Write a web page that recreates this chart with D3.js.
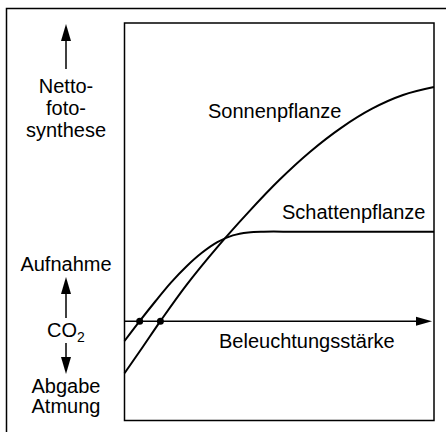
<!DOCTYPE html>
<html>
<head>
<meta charset="utf-8">
<script src="https://cdn.jsdelivr.net/npm/d3@7"></script>
<style>
body { margin: 0; background: #fff; }
text { font-family: "Liberation Sans", Arial, sans-serif; font-size: 20px; fill: #000; }
</style>
</head>
<body>
<div id="chart"></div>
<script>
// Beleuchtungsstärke (0-100) vs. Nettofotosynthese (relative units)
var sunX = [0, 6, 11.6, 20, 30, 40, 50, 60, 70, 80, 90, 100];
var sunY = [-2.1, -1.02, 0, 1.45, 2.98, 4.38, 5.68, 6.82, 7.78, 8.55, 9.1, 9.42];
var shadeX = [0, 4.9, 10, 15, 20, 25, 30, 35, 40, 45, 55, 70, 85, 100];
var shadeY = [-0.8, 0, 0.8, 1.55, 2.2, 2.75, 3.18, 3.45, 3.57, 3.6, 3.6, 3.6, 3.6, 3.6];
var compX = [4.9, 11.6];
var compY = [0, 0];
var curveNames = ["Sonnenpflanze", "Schattenpflanze"];

var width = 446, height = 432;
var box = {left: 124.5, top: 23, right: 434, bottom: 420.5};

var svg = d3.select("#chart")
.append("svg")
.attr("width", width)
.attr("height", height);

var xScale = d3.scaleLinear()
.domain([0, 100])
.range([box.left, box.right]);

var yScale = d3.scaleLinear()
.domain([-4, 12])
.range([box.bottom, box.top]);

// outer frame (runs off the picture to the right and bottom)
svg.append("rect")
.attr("x", 6.5).attr("y", 8.5)
.attr("width", 600).attr("height", 600)
.attr("fill", "none").attr("stroke", "#000").attr("stroke-width", 1.5);

svg.append("rect")
.attr("x", box.left).attr("y", box.top)
.attr("width", box.right - box.left).attr("height", box.bottom - box.top)
.attr("fill", "none").attr("stroke", "#000").attr("stroke-width", 1.5);

// x axis with arrow
svg.append("line")
.attr("x1", xScale(0)).attr("x2", xScale(100) - 14)
.attr("y1", yScale(0)).attr("y2", yScale(0))
.attr("stroke", "#000").attr("stroke-width", 1.5);
svg.append("path")
.attr("d", "M" + (xScale(100) - 2) + "," + yScale(0) + "l-16,-4.5l0,9z")
.attr("fill", "#000");

var line = d3.line()
.x(function (d) { return xScale(d[0]); })
.y(function (d) { return yScale(d[1]); })
.curve(d3.curveCatmullRom.alpha(0.5));

svg.append("path")
.attr("d", line(d3.zip(sunX, sunY)))
.attr("fill", "none").attr("stroke", "#000").attr("stroke-width", 2);

svg.append("path")
.attr("d", line(d3.zip(shadeX, shadeY)))
.attr("fill", "none").attr("stroke", "#000").attr("stroke-width", 2);

svg.append("g")
.selectAll("circle")
.data(d3.zip(compX, compY))
.enter()
.append("circle")
.attr("cx", function (d) { return xScale(d[0]); })
.attr("cy", function (d) { return yScale(d[1]); })
.attr("r", 3.5)
.attr("fill", "#000");

svg.append("text").attr("x", 208).attr("y", 118).text(curveNames[0]);
svg.append("text").attr("x", 282).attr("y", 219).text(curveNames[1]);
svg.append("text").attr("x", 219).attr("y", 348).text("Beleuchtungsstärke");

// left side labels
var cx = 66;
function arrow(y1, y2) {
	var dir = y2 > y1 ? 1 : -1;
	svg.append("line")
	.attr("x1", cx).attr("x2", cx)
	.attr("y1", y1).attr("y2", y2 - dir * 14)
	.attr("stroke", "#000").attr("stroke-width", 1.5);
	svg.append("path")
	.attr("d", "M" + cx + "," + y2 + "l-5," + (-dir * 17) + "l10,0z")
	.attr("fill", "#000");
}
function label(y, t) {
	svg.append("text").attr("x", cx).attr("y", y)
	.attr("text-anchor", "middle").text(t);
}

arrow(69, 24);
label(93, "Netto-");
label(115, "foto-");
label(137, "synthese");

label(271, "Aufnahme");
arrow(318, 277);
var co2 = svg.append("text").attr("x", cx).attr("y", 337).attr("text-anchor", "middle");
co2.append("tspan").text("CO");
co2.append("tspan").attr("dy", 5).style("font-size", "14px").text("2");
arrow(343, 374);
label(393, "Abgabe");
label(413, "Atmung");
</script>
</body>
</html>
